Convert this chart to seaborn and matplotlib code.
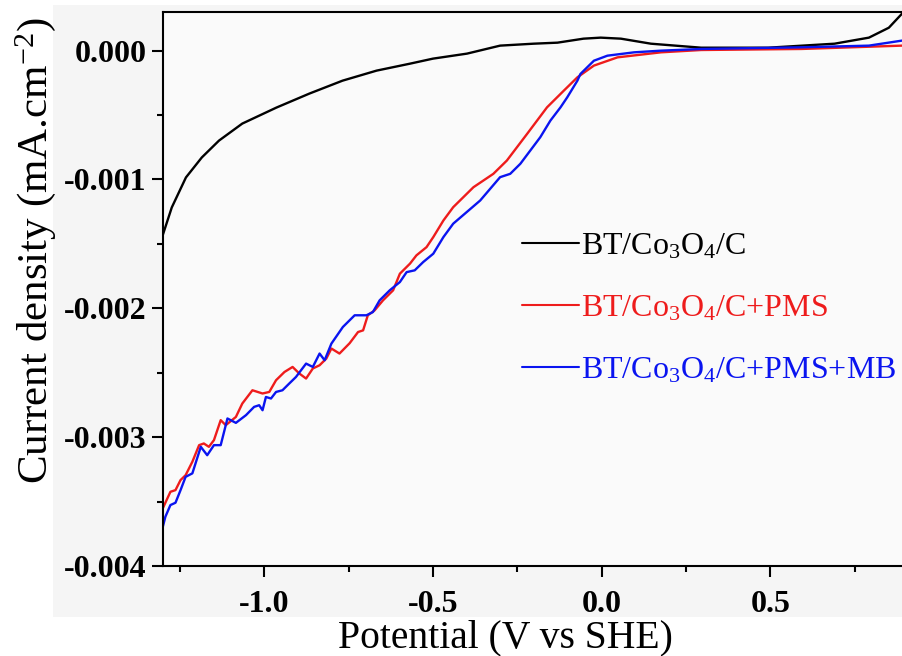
import numpy as np
import pandas as pd
import matplotlib
matplotlib.use("Agg")
import matplotlib.pyplot as plt
from matplotlib.patches import Rectangle
from matplotlib.ticker import FormatStrFormatter, MultipleLocator
import seaborn as sns

# Linear sweep voltammetry: potential (V vs SHE) and current density (mA.cm-2)
labels = ["BT/Co$_3$O$_4$/C", "BT/Co$_3$O$_4$/C+PMS", "BT/Co$_3$O$_4$/C+PMS+MB"]
colors = ["#000000", "#ee1c1c", "#0a14f0"]

bt_v = [-1.303, -1.274, -1.232, -1.185, -1.134, -1.065, -0.964, -0.866, -0.768,
        -0.667, -0.568, -0.500, -0.399, -0.301, -0.202, -0.131, -0.054, -0.003,
        0.057, 0.146, 0.295, 0.494, 0.690, 0.792, 0.851, 0.890]
bt_j = [-1.45, -1.217, -0.984, -0.829, -0.698, -0.566, -0.442, -0.333, -0.233,
        -0.155, -0.101, -0.062, -0.023, 0.039, 0.054, 0.062, 0.093, 0.101,
        0.093, 0.054, 0.023, 0.023, 0.054, 0.101, 0.178, 0.287]

pms_v = [-1.303, -1.278, -1.263, -1.248, -1.233, -1.213, -1.193, -1.179, -1.164,
         -1.149, -1.129, -1.114, -1.084, -1.065, -1.035, -1.005, -0.985, -0.965,
         -0.940, -0.916, -0.896, -0.876, -0.856, -0.836, -0.816, -0.801, -0.777,
         -0.747, -0.722, -0.707, -0.693, -0.673, -0.648, -0.618, -0.598, -0.568,
         -0.549, -0.519, -0.499, -0.469, -0.440, -0.380, -0.321, -0.281, -0.221,
         -0.162, -0.112, -0.072, -0.023, 0.047, 0.176, 0.295, 0.592, 0.890]
pms_j = [-3.566, -3.424, -3.411, -3.333, -3.295, -3.191, -3.062, -3.049, -3.075,
         -3.023, -2.868, -2.907, -2.843, -2.739, -2.636, -2.661, -2.649, -2.558,
         -2.494, -2.455, -2.506, -2.545, -2.467, -2.442, -2.390, -2.312, -2.351,
         -2.271, -2.184, -2.171, -2.054, -2.016, -1.938, -1.860, -1.731, -1.653,
         -1.589, -1.525, -1.447, -1.318, -1.215, -1.060, -0.956, -0.853, -0.646,
         -0.440, -0.310, -0.207, -0.116, -0.052, -0.013, 0.005, 0.013, 0.039]

mb_v = [-1.303, -1.293, -1.278, -1.263, -1.248, -1.233, -1.213, -1.188, -1.169,
        -1.149, -1.129, -1.109, -1.084, -1.054, -1.030, -1.015, -1.005, -0.995,
        -0.980, -0.965, -0.946, -0.926, -0.906, -0.876, -0.856, -0.836, -0.821,
        -0.801, -0.767, -0.747, -0.732, -0.697, -0.678, -0.658, -0.628, -0.598,
        -0.578, -0.554, -0.529, -0.499, -0.469, -0.440, -0.400, -0.360, -0.301,
        -0.271, -0.241, -0.182, -0.152, -0.122, -0.102, -0.072, -0.063, -0.023,
        0.017, 0.096, 0.176, 0.295, 0.592, 0.792, 0.890]
mb_j = [-3.721, -3.618, -3.527, -3.509, -3.411, -3.308, -3.281, -3.075, -3.140,
        -3.062, -3.062, -2.855, -2.889, -2.829, -2.765, -2.752, -2.791, -2.688,
        -2.700, -2.649, -2.636, -2.584, -2.533, -2.429, -2.455, -2.351, -2.403,
        -2.274, -2.145, -2.093, -2.054, -2.054, -2.029, -1.938, -1.860, -1.796,
        -1.719, -1.705, -1.641, -1.576, -1.447, -1.343, -1.253, -1.163, -0.982,
        -0.956, -0.878, -0.672, -0.543, -0.440, -0.362, -0.233, -0.181, -0.078,
        -0.039, -0.013, 0.000, 0.013, 0.026, 0.039, 0.078]

frames = []
for lab, v, j in zip(labels, [bt_v, pms_v, mb_v], [bt_j, pms_j, mb_j]):
    frames.append(pd.DataFrame({"Potential": v,
                                "Current": np.array(j) * 1e-3,
                                "Sample": lab}))
df = pd.concat(frames, ignore_index=True)

sns.set_theme(style="ticks")
plt.rcParams["font.family"] = ["Liberation Serif", "DejaVu Serif"]
plt.rcParams["mathtext.fontset"] = "custom"
plt.rcParams["mathtext.rm"] = "Liberation Serif"
plt.rcParams["mathtext.it"] = "Liberation Serif:italic"
plt.rcParams["mathtext.bf"] = "Liberation Serif:bold"
plt.rcParams["axes.unicode_minus"] = False
plt.rcParams["text.color"] = "black"
plt.rcParams["axes.labelcolor"] = "black"
plt.rcParams["xtick.color"] = "black"
plt.rcParams["ytick.color"] = "black"

fig = plt.figure(figsize=(9.02, 6.56), dpi=100)
fig.patch.set_facecolor("white")
fig.patches.append(Rectangle((53 / 902, 39 / 656), 849 / 902, 612 / 656,
                             transform=fig.transFigure, facecolor="#f5f5f5",
                             edgecolor="none", zorder=-10))
ax = fig.add_axes([163 / 902, 90 / 656, 739 / 902, 554 / 656])
ax.set_facecolor("#fafafa")

sns.lineplot(data=df, x="Potential", y="Current", hue="Sample",
             palette=dict(zip(labels, colors)), estimator=None, sort=False,
             linewidth=1.7, ax=ax)

ax.set_xlim(-1.30, 0.89)
ax.set_ylim(-0.004, 0.0003)
ax.xaxis.set_major_locator(MultipleLocator(0.5))
ax.xaxis.set_minor_locator(MultipleLocator(0.25))
ax.yaxis.set_major_locator(MultipleLocator(0.001))
ax.yaxis.set_minor_locator(MultipleLocator(0.0005))
ax.xaxis.set_major_formatter(FormatStrFormatter("%.1f"))
ax.yaxis.set_major_formatter(FormatStrFormatter("%.3f"))

for side in ["left", "bottom", "top"]:
    ax.spines[side].set_linewidth(1.5)
    ax.spines[side].set_color("black")
ax.spines["right"].set_visible(False)

ax.tick_params(which="major", direction="out", length=8, width=1.5,
               colors="black", labelsize=23, pad=4)
ax.tick_params(which="minor", direction="out", length=4.5, width=1.5,
               colors="black")
ax.tick_params(axis="x", which="major", pad=9)
for t in ax.get_xticklabels() + ax.get_yticklabels():
    t.set_fontweight("bold")

ax.set_xlabel("Potential (V vs SHE)", fontsize=28.5)
ax.set_ylabel("Current density (mA.cm$^{-2}$)", fontsize=31)
ax.xaxis.set_label_coords(0.464, -0.097)
ax.yaxis.set_label_coords(-0.142, 0.57)

handles, _ = ax.get_legend_handles_labels()
leg = ax.legend(handles=handles, labels=labels, loc="upper left",
                bbox_to_anchor=(0.486, 0.603), frameon=False, fontsize=23,
                handlelength=1.78, handletextpad=0.06, labelspacing=1.02,
                borderpad=0, borderaxespad=0, labelcolor="linecolor")
for line in leg.get_lines():
    line.set_linewidth(1.5)

fig.savefig("out.png", dpi=100, facecolor=fig.get_facecolor())
